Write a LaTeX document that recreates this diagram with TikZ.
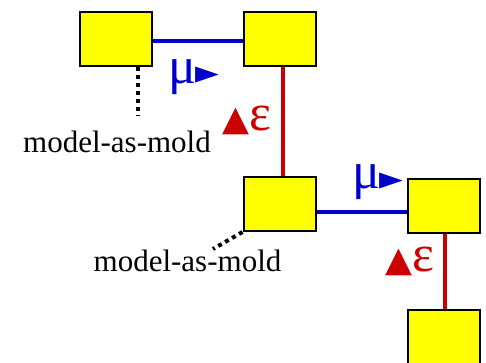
\documentclass[tikz,border=0pt]{standalone}
\usepackage{fontspec}
\setmainfont{Liberation Serif}
\newfontfamily\symfont{DejaVu Sans}
\usetikzlibrary{positioning}
\definecolor{boxyellow}{HTML}{FFFF00}
\definecolor{mublue}{HTML}{0000CC}
\definecolor{epsred}{HTML}{CC0000}
\newcommand{\shapech}[3][1]{{\symfont\fontsize{#2}{#2}\selectfont\scalebox{1}[#1]{#3}}}

\begin{document}
\begin{tikzpicture}[x=1pt, y=-1pt,
  cell/.style={draw=black, line width=2pt, fill=boxyellow, minimum width=72pt, minimum height=54pt, inner sep=0pt},
  muline/.style={draw=mublue, line width=4pt},
  epsline/.style={draw=epsred, line width=4pt},
  moldline/.style={line width=4pt, dash pattern=on 4pt off 4pt},
  moldlbl/.style={font=\fontsize{31}{33}\selectfont, inner sep=0pt, anchor=base},
  greeklbl/.style={font=\fontsize{52}{54}\selectfont, inner sep=0pt, anchor=base west}]
  \useasboundingbox (0,0) rectangle (486,363);

  % Cells
  \node[cell] (a) at (116,39) {};
  \node[cell] (b) at (279.5,39) {};
  \node[cell] (c) at (279.5,204) {};
  \node[cell] (d) at (443.5,206) {};
  \node[cell] (e) at (443.5,337) {};

  % mu links
  \draw[muline] ([yshift=-2pt]a.east) -- ([yshift=-2pt]b.west);
  \draw[muline] ([yshift=-8pt]c.east) -- ([yshift=-6pt]d.west);
  \node[greeklbl, text=mublue] (mu1) at (168,84) {μ\kern-1pt\raisebox{3pt}{\shapech[0.68]{31}{▶}}};
  \node[greeklbl, text=mublue] (mu2) at (352,189) {μ\kern-1pt\raisebox{3pt}{\shapech[0.68]{31}{▶}}};

  % epsilon links
  \draw[epsline] ([xshift=3pt]b.south) -- ([xshift=3pt]c.north);
  \draw[epsline] ([xshift=1.5pt]d.south) -- ([xshift=1.5pt]e.north);
  \node[greeklbl, text=epsred] (eps1) at (222,131) {\shapech{35}{▲}ε};
  \node[greeklbl, text=epsred] (eps2) at (385,271) {\shapech{35}{▲}ε};

  % model-as-mold
  \coordinate (enda) at (138,116);
  \coordinate (endc) at (213,249);
  \draw[moldline] ([xshift=22pt]a.south) -- (enda);
  \draw[moldline] (c.south west) -- (endc);
  \node[moldlbl] (molda) at (117,153) {model-as-mold};
  \node[moldlbl] (moldc) at (187.5,271) {model-as-mold};
\end{tikzpicture}
\end{document}
